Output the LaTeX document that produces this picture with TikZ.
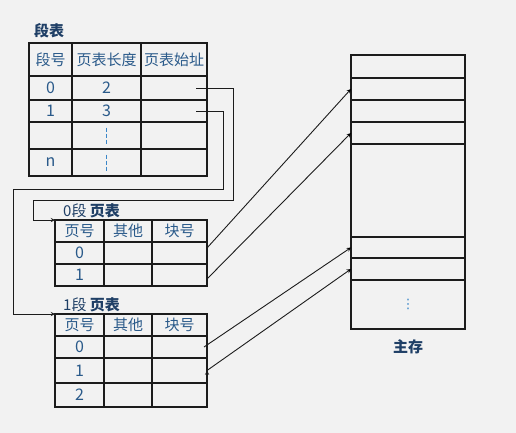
\documentclass[tikz,border=0pt]{standalone}
\usepackage{fontspec}
\setmainfont{Noto Sans CJK SC}
\newfontfamily\symfont{DejaVu Sans}
\usepackage{tikz}
\usetikzlibrary{positioning}

\definecolor{ink}{HTML}{2A5A8A}
\definecolor{head}{HTML}{1F3F66}
\definecolor{dashc}{HTML}{3A86C8}
\definecolor{linec}{HTML}{1C1C1C}
\definecolor{bg}{HTML}{F2F2F2}

\newcommand{\num}[1]{{\fontsize{16}{18}\selectfont #1}}

\tikzset{
    cell/.style={draw=linec, line width=1.1pt, inner sep=0pt, outer sep=0pt,
        anchor=north west, minimum width=#1, text=ink,
        font=\fontsize{15}{17}\selectfont},
    slot/.style={draw=linec, line width=1.1pt, inner sep=0pt, outer sep=0pt,
        anchor=north west, minimum width=114pt},
    title/.style={inner sep=0pt, text=head, font=\fontsize{15}{17}\selectfont},
    link/.style={draw=linec, line width=0.9pt, ->, >=stealth}
}

\begin{document}
\begin{tikzpicture}[x=1pt,y=-1pt]
        \fill[bg] (0,0) rectangle (516,433);
        \useasboundingbox (0,0) rectangle (516,433);
        % segment table
        \foreach \r/\y/\h/\a/\b/\c in {h/43/33/段号/页表长度/页表始址, 0/76/24/\num{0}/\num{2}/{}, 1/100/22/\num{1}/\num{3}/{},
                2/122/27/{}/{}/{}, n/149/27/\raisebox{-5pt}{\num{n}}/{}/{}} {
            \node[cell=43pt, minimum height=\h pt] (s\r a) at (29,\y) {\a};
            \node[cell=69pt, minimum height=\h pt] (s\r b) at (72,\y) {\b};
            \node[cell=66pt, minimum height=\h pt] (s\r c) at (141,\y) {\c};
        }
        \draw[dashc, line width=1pt, dash pattern=on 4pt off 2pt]
            ([yshift=8pt]s2b.center) -- ([yshift=-8pt]s2b.center)
            ([yshift=8pt]snb.center) -- ([yshift=-8pt]snb.center);
        \node[title, font=\fontsize{15}{17}\selectfont\bfseries, above right=5pt and 5pt of sha.north west, anchor=south west] (segtitle) {段表};

        % page table of segment 0
        \foreach \r/\y/\h/\a/\b/\c in {h/220/22/页号/其他/块号, 0/242/22/\num{0}/{}/{}, 1/264/22/\num{1}/{}/{}} {
            \node[cell=49pt, minimum height=\h pt] (p\r a) at (55,\y) {\a};
            \node[cell=48pt, minimum height=\h pt] (p\r b) at (104,\y) {\b};
            \node[cell=55pt, minimum height=\h pt] (p\r c) at (152,\y) {\c};
        }
        \node[title, above right=2pt and 8pt of pha.north west, anchor=south west] (ptitle) {0段 \textbf{页表}};

        % page table of segment 1
        \foreach \r/\y/\h/\a/\b/\c in {h/314/22/页号/其他/块号, 0/336/22/\num{0}/{}/{}, 1/358/25/\num{1}/{}/{}, 2/383/24/\num{2}/{}/{}} {
            \node[cell=49pt, minimum height=\h pt] (q\r a) at (55,\y) {\a};
            \node[cell=48pt, minimum height=\h pt] (q\r b) at (104,\y) {\b};
            \node[cell=55pt, minimum height=\h pt] (q\r c) at (152,\y) {\c};
        }
        \node[title, above right=2pt and 8pt of qha.north west, anchor=south west] (qtitle) {1段 \textbf{页表}};

        % main memory
        \foreach \i/\y/\h in {1/55/23, 2/78/22, 3/100/22, 4/122/22, 5/144/93, 6/237/21, 7/258/22, 8/280/49}
            \node[slot, minimum height=\h pt] (m\i) at (351,\y) {};
        \node[text=dashc, font=\symfont\fontsize{13}{15}\selectfont] (memdots) at (m8) {⋮};
        \node[title, font=\fontsize{15}{17}\selectfont\bfseries, below=10pt of m8] (memtitle) {主存};

        % segment table to page tables
        \draw[link] ([xshift=-11pt]s0c.east) -- ++(37,0) |- (33,200) |- (pha.north west);
        \draw[link] ([xshift=-11pt]s1c.east) -- ++(27,0) |- (13,189) |- (qha.north west);

        % page tables to main memory
        \path[link]
            ([yshift=5pt]p0c.east) edge (m2.west)
            ([yshift=-4pt]p1c.east) edge (m4.west)
            ([xshift=-3pt]q0c.east) edge (m6.west)
            (q1c.east) edge (m7.west);
    \end{tikzpicture}
\end{document}
